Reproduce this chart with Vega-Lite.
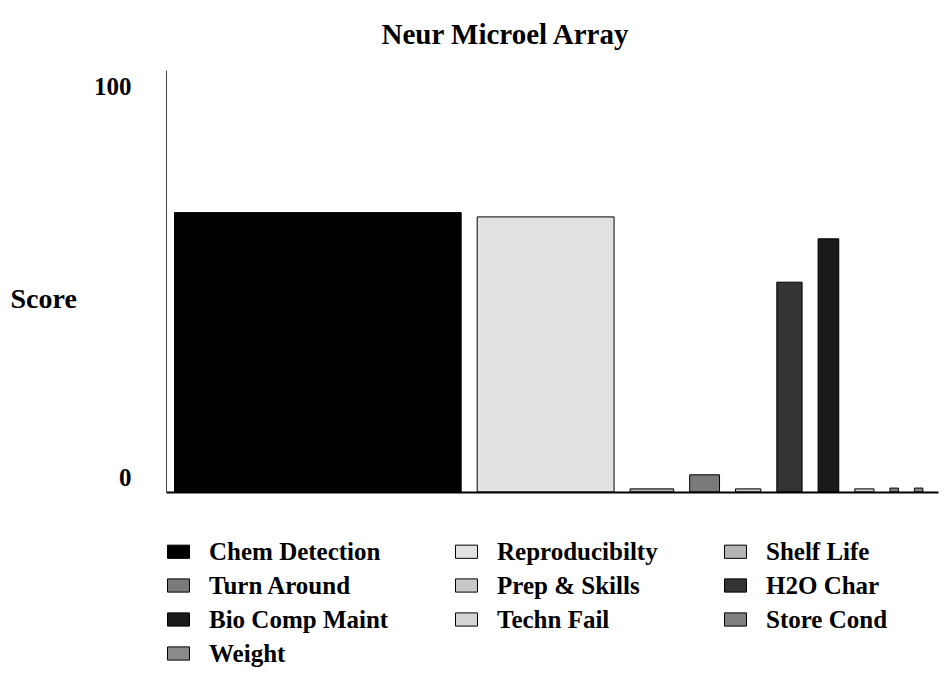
{
  "$schema": "https://vega.github.io/schema/vega-lite/v6.json",
  "width": 772,
  "height": 422,
  "autosize": {"type": "none"},
  "padding": {"left": 166, "top": 70, "right": 6, "bottom": 182},
  "background": "white",
  "title": {"text": "Neur Microel Array", "font": "Liberation Serif", "fontSize": 29, "fontWeight": "bold", "color": "#000000", "anchor": "middle", "dx": -47, "offset": 20},
  "data": {"values": [
    {"criterion": "Chem Detection", "score": 71.5, "importance": 39.6},
    {"criterion": "Reproducibilty", "score": 70.4, "importance": 20.0},
    {"criterion": "Shelf Life", "score": 0.8, "importance": 7.8},
    {"criterion": "Turn Around", "score": 4.4, "importance": 6.0},
    {"criterion": "Prep & Skills", "score": 0.8, "importance": 5.4},
    {"criterion": "H2O Char", "score": 53.7, "importance": 5.4},
    {"criterion": "Bio Comp Maint", "score": 64.8, "importance": 4.8},
    {"criterion": "Techn Fail", "score": 0.8, "importance": 4.6},
    {"criterion": "Store Cond", "score": 1.0, "importance": 3.2},
    {"criterion": "Weight", "score": 1.0, "importance": 3.2}
  ]},
  "transform": [{"stack": "importance", "groupby": [], "as": ["x_start", "x_end"]}],
  "mark": {"type": "bar", "binSpacing": 16, "stroke": "#000000", "strokeWidth": 1},
  "encoding": {
    "x": {"field": "x_start", "type": "quantitative", "bin": "binned",
      "scale": {"domain": [0, 101], "zero": false, "nice": false},
      "axis": {"labels": false, "ticks": false, "title": null, "grid": false, "domainColor": "#000000", "domainWidth": 2, "zindex": 1}},
    "x2": {"field": "x_end"},
    "y": {"field": "score", "type": "quantitative", "stack": null,
      "scale": {"domain": [0, 108], "nice": false},
      "axis": {"values": [0, 100], "title": "Score", "titleAngle": 0, "titleAlign": "left", "titleBaseline": "middle", "titleX": -156, "titleY": 229,
        "titleFont": "Liberation Serif", "titleFontSize": 28, "titleFontWeight": "bold", "titleColor": "#000000",
        "labelFont": "Liberation Serif", "labelFontSize": 25, "labelFontWeight": "bold", "labelColor": "#000000",
        "labelPadding": 35, "labelOffset": -15, "ticks": false, "grid": false, "domainColor": "#444444", "domainWidth": 1, "zindex": 1}},
    "color": {"field": "criterion", "type": "nominal",
      "scale": {"domain": ["Chem Detection", "Reproducibilty", "Shelf Life", "Turn Around", "Prep & Skills", "H2O Char", "Bio Comp Maint", "Techn Fail", "Store Cond", "Weight"],
        "range": ["#000000", "#e2e2e2", "#b4b4b4", "#7a7a7a", "#c8c8c8", "#333333", "#1a1a1a", "#d4d4d4", "#808080", "#8a8a8a"]},
      "legend": {"orient": "none", "legendX": 0, "legendY": 469, "direction": "horizontal", "columns": 3, "title": null,
        "symbolType": "M-1,-0.6H1V0.6H-1Z", "symbolSize": 484, "symbolStrokeColor": "#000000", "symbolStrokeWidth": 1,
        "labelFont": "Liberation Serif", "labelFontSize": 25, "labelFontWeight": "bold", "labelColor": "#000000",
        "labelOffset": 18, "columnPadding": 64, "rowPadding": 8, "labelLimit": 400}}
  },
  "config": {"view": {"stroke": null}}
}
